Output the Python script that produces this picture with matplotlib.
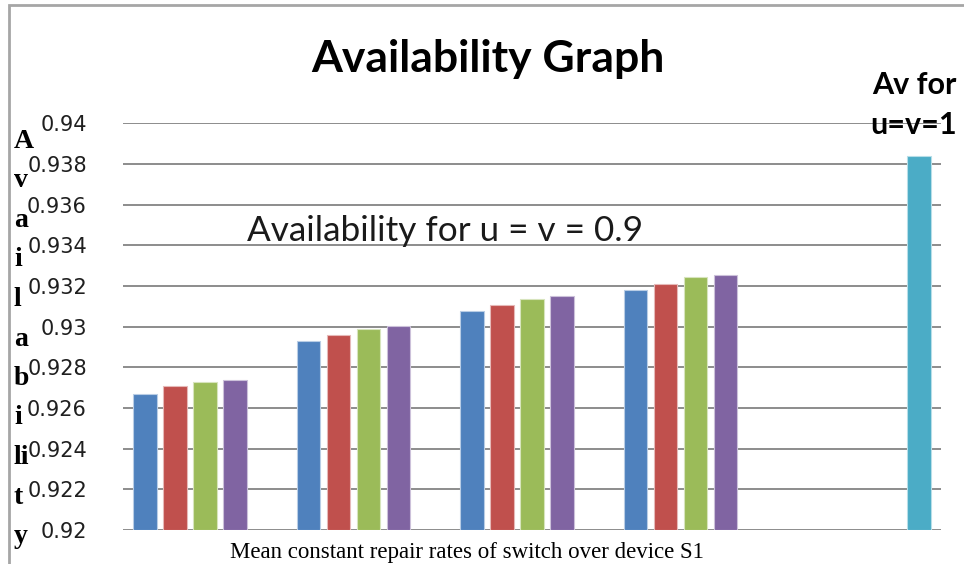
import matplotlib
matplotlib.use("Agg")
import matplotlib.pyplot as plt
from matplotlib.patches import Rectangle
import numpy as np

# Availability values per repair-rate group (u = v = 0.9)
groups = ["1", "2", "3", "4"]
series_1 = [0.92667, 0.92928, 0.93077, 0.93180]
series_2 = [0.92709, 0.92958, 0.93108, 0.93212]
series_3 = [0.92729, 0.92990, 0.93138, 0.93243]
series_4 = [0.92740, 0.93005, 0.93150, 0.93253]
# Availability for u = v = 1
av_unit = [0.93841]

y_ticks = [0.92, 0.922, 0.924, 0.926, 0.928, 0.93, 0.932, 0.934, 0.936, 0.938, 0.94]
y_tick_labels = ["0.92", "0.922", "0.924", "0.926", "0.928", "0.93",
                 "0.932", "0.934", "0.936", "0.938", "0.94"]

colors = ["#4F81BD", "#C0504D", "#9BBB59", "#8064A2", "#4BACC6"]
edges = ["#B9CDE5", "#E6B9B8", "#D7E4BD", "#CCC1DA", "#B7DEE8"]

W, H = 964, 564
fig = plt.figure(figsize=(W / 100, H / 100), dpi=100)


def fx(px):
    return px / W


def fy(py):
    return 1 - py / H


# outer chart frame
fig.patches.append(Rectangle((fx(9), fy(H + 20)), fx(W + 20), fy(5) - fy(H + 20),
                             transform=fig.transFigure, fill=False,
                             edgecolor="#A6A6A6", linewidth=2))

ax = fig.add_axes([fx(123), fy(530), fx(941) - fx(123), fy(123.3) - fy(530)])

n_slots = 5
slot = 0.1834
bar_w = 0.1436
all_series = [series_1, series_2, series_3, series_4]
x_groups = np.arange(len(groups))
for i, vals in enumerate(all_series):
    xs = x_groups + (i - (n_slots - 1) / 2) * slot
    ax.bar(xs, np.array(vals) - 0.92, width=bar_w, bottom=0.92,
           color=colors[i], edgecolor=edges[i], linewidth=0.8, zorder=3)

x_unit = np.array([len(groups)]) + (4 - (n_slots - 1) / 2) * slot
ax.bar(x_unit, np.array(av_unit) - 0.92, width=bar_w, bottom=0.92,
       color=colors[4], edgecolor=edges[4], linewidth=0.8, zorder=3)

ax.set_xlim(-0.5, len(groups) + 0.5)
ax.set_ylim(0.92, 0.94)
ax.set_yticks(y_ticks)
ax.set_yticklabels(y_tick_labels, fontsize=15, color="#1F1F1F",
                   family="DejaVu Sans")
ax.set_xticks([])
ax.tick_params(axis="y", length=0, pad=26)
for s in ax.spines.values():
    s.set_visible(False)
ax.yaxis.grid(True, color="#8C8C8C", linewidth=1.4, zorder=0)
ax.set_axisbelow(True)

# title and annotations
fig.text(fx(488), fy(72), "Availability Graph", ha="center", va="baseline",
         fontsize=32, fontweight="bold", family="Lato", color="#000000")
fig.text(fx(247), fy(241), "Availability for u = v = 0.9", ha="left", va="baseline",
         fontsize=25.3, family="Lato", color="#1A1A1A")
fig.text(fx(914), fy(94), "Av for", ha="center", va="baseline",
         fontsize=22, fontweight="bold", family="Lato", color="#000000")
fig.text(fx(914), fy(134), "u=v=1", ha="center", va="baseline",
         fontsize=22, fontweight="bold", family="Lato", color="#000000")

# stacked vertical axis title
letters = ["A", "v", "a", "i", "l", "a", "b", "i", "li", "t", "y"]
base_top, base_bot = 148, 543
for k, ch in enumerate(letters):
    yb = base_top + k * (base_bot - base_top) / (len(letters) - 1)
    fig.text(fx(14), fy(yb), ch, ha="left", va="baseline", fontsize=20,
             fontweight="bold", family="Liberation Serif", color="#000000")

fig.text(fx(467), fy(558), "Mean constant repair rates of switch over device S1",
         ha="center", va="baseline", fontsize=16.5, family="Liberation Serif",
         color="#000000")

fig.savefig("out.png", dpi=100)
